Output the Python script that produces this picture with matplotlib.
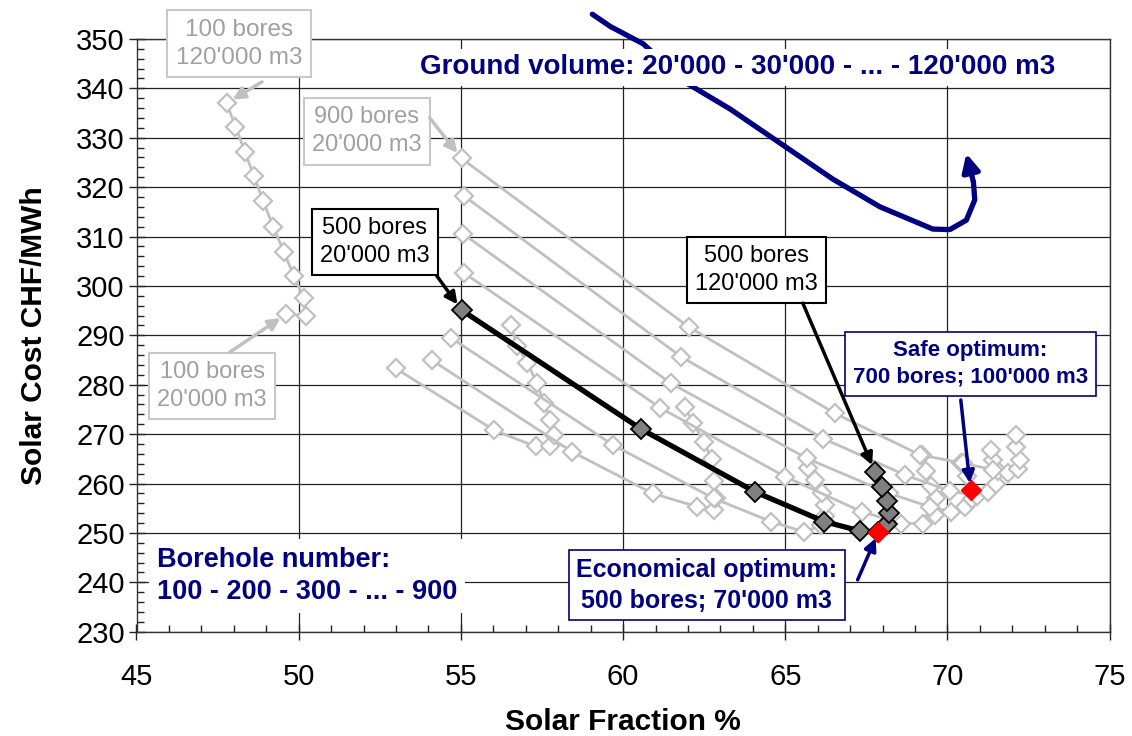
import matplotlib
matplotlib.use('Agg')
import matplotlib.pyplot as plt
from matplotlib.ticker import MultipleLocator

plt.rcParams['font.family'] = ['Liberation Sans', 'DejaVu Sans']

# ---------------- data ----------------
volumes = [20000, 30000, 40000, 50000, 60000, 70000, 80000, 90000, 100000, 110000, 120000]
bores = [100, 200, 300, 400, 500, 600, 700, 800, 900]

sf_100 = [49.62, 50.23, 50.16, 49.85, 49.55, 49.22, 48.91, 48.62, 48.34, 48.05, 47.78]
cost_100 = [294.3, 294.0, 297.5, 302.0, 306.8, 311.9, 317.1, 322.2, 327.2, 332.2, 337.0]

sf_200 = [52.99, 56.02, 57.30, 57.76, 57.86, 57.76, 57.56, 57.35, 57.05, 56.74, 56.53]
cost_200 = [283.3, 270.8, 267.5, 267.5, 269.8, 272.9, 276.2, 280.3, 284.3, 287.9, 292.1]

sf_300 = [54.12, 58.43, 60.91, 62.28, 62.79, 62.85, 62.80, 62.74, 62.48, 62.17, 61.90]
cost_300 = [284.9, 266.4, 258.0, 255.3, 254.6, 257.0, 260.5, 264.9, 268.5, 272.2, 275.5]

sf_400 = [54.69, 59.69, 62.79, 64.56, 65.58, 66.10, 66.22, 66.22, 66.12, 65.92, 65.70]
cost_400 = [289.5, 267.8, 257.0, 252.3, 250.2, 251.5, 253.4, 255.6, 258.0, 260.7, 263.1]

sf_500 = [55.02, 60.56, 64.07, 66.20, 67.30, 67.87, 68.14, 68.20, 68.14, 67.97, 67.76]
cost_500 = [295.1, 271.0, 258.3, 252.3, 250.4, 250.2, 251.8, 254.0, 256.5, 259.2, 262.4]

sf_600 = [55.10, 61.15, 64.99, 67.35, 68.58, 69.25, 69.60, 69.66, 69.50, 69.35, 69.20]
cost_600 = [302.6, 275.3, 261.4, 254.3, 251.9, 251.9, 253.6, 257.0, 259.4, 262.6, 265.8]

sf_700 = [55.05, 61.47, 65.66, 68.20, 69.45, 70.12, 70.53, 70.75, 70.71, 70.60, 70.43]
cost_700 = [310.6, 280.3, 265.1, 258.0, 255.3, 254.3, 255.3, 256.8, 258.7, 261.5, 264.1]

sf_800 = [55.10, 61.80, 66.17, 68.70, 70.07, 70.90, 71.25, 71.50, 71.56, 71.41, 71.35]
cost_800 = [318.2, 285.6, 269.1, 261.7, 258.5, 257.5, 258.3, 260.0, 262.5, 264.8, 266.8]

sf_900 = [55.02, 62.02, 66.53, 69.15, 70.48, 71.40, 71.86, 72.17, 72.22, 72.12, 72.12]
cost_900 = [325.8, 291.7, 274.2, 265.8, 264.1, 262.8, 262.1, 263.0, 264.8, 267.3, 269.8]

x_ticks = [45, 50, 55, 60, 65, 70, 75]
y_ticks = [230, 240, 250, 260, 270, 280, 290, 300, 310, 320, 330, 340, 350]

# hand-drawn "ground volume" direction curve (annotation, data coords)
gv_x = [59.05, 59.61, 60.62, 61.97, 63.30, 64.84, 66.47, 67.92, 69.55, 70.07, 70.58, 70.84, 70.80]
gv_y = [355.0, 352.5, 349.0, 341.0, 335.8, 328.9, 321.6, 316.0, 311.5, 311.4, 313.3, 317.4, 321.0]

# ---------------- figure ----------------
fig = plt.figure(figsize=(11.32, 7.36), dpi=100)
ax = fig.add_axes([136.5 / 1132, 1 - 631.7 / 736, (1109.7 - 136.5) / 1132, (631.7 - 38.9) / 736])

ax.set_xlim(45, 75)
ax.set_ylim(230, 350)
ax.set_xticks(x_ticks)
ax.set_yticks(y_ticks)
ax.xaxis.set_minor_locator(MultipleLocator(1))
ax.yaxis.set_minor_locator(MultipleLocator(2))
ax.grid(True, which='major', color='#222222', lw=0.9, zorder=0)
ax.set_axisbelow(True)
for s in ax.spines.values():
    s.set_color('#333333')
    s.set_linewidth(1.0)
ax.tick_params(which='major', direction='inout', length=11, width=1.0, color='#222222', labelsize=21)
ax.tick_params(axis='x', which='major', pad=17)
ax.tick_params(axis='y', which='major', pad=3)
ax.tick_params(which='minor', direction='in', length=5, width=1.0, color='#222222')

ax.set_xlabel('Solar Fraction %', fontsize=21.5, fontweight='bold', labelpad=12)
ax.set_ylabel('Solar Cost CHF/MWh', fontsize=21.5, fontweight='bold', labelpad=20)

gray = '#c0c0c0'
series = [(sf_100, cost_100), (sf_200, cost_200), (sf_300, cost_300), (sf_400, cost_400),
          (sf_600, cost_600), (sf_700, cost_700), (sf_800, cost_800), (sf_900, cost_900)]
for sf, cost in series:
    ax.plot(sf, cost, color=gray, lw=2.0, marker='D', ms=9, mfc='white', mec=gray, mew=1.6, zorder=3)

ax.plot(sf_500, cost_500, color='black', lw=3.8, marker='D', ms=10, mfc='#808080', mec='black',
        mew=1.3, zorder=4)

# optima
ax.plot([sf_500[5]], [cost_500[5]], 'D', color='red', ms=10.5, zorder=6)
ax.plot([sf_700[8]], [cost_700[8]], 'D', color='red', ms=10.5, zorder=6)

navy = '#000080'
gtxt = '#a0a0a0'


def box_text(x, y, s, color, ec, weight='normal', size=17, lw=1.5, pad=0.35):
    ax.text(x, y, s, color=color, fontsize=size, fontweight=weight, ha='center', va='center',
            linespacing=1.35, zorder=8, clip_on=False,
            bbox=dict(boxstyle='square,pad=%g' % pad, fc='white', ec=ec, lw=lw))


def arrow(xy, xyt, color, lw=2.5, ms=18):
    ax.annotate('', xy=xy, xytext=xyt, annotation_clip=False, zorder=9,
                arrowprops=dict(arrowstyle='-|>', color=color, lw=lw, mutation_scale=ms,
                                shrinkA=0, shrinkB=5))


# grey annotations
box_text(48.16, 349.0, "100 bores\n120'000 m3", gtxt, '#c8c8c8', size=17.5)
arrow((sf_100[-1], cost_100[-1]), (48.87, 341.3), gray)
box_text(52.10, 331.3, "900 bores\n20'000 m3", gtxt, '#c8c8c8')
arrow((sf_900[0], cost_900[0]), (54.04, 334.0), gray)
box_text(47.33, 279.7, "100 bores\n20'000 m3", gtxt, '#c8c8c8')
arrow((sf_100[0], cost_100[0]), (47.88, 286.6), gray)

# black annotations
box_text(52.35, 308.9, "500 bores\n20'000 m3", 'black', 'black')
arrow((sf_500[0], cost_500[0]), (54.26, 302.0), 'black')
box_text(64.12, 303.2, "500 bores\n120'000 m3", 'black', 'black')
arrow((sf_500[-1], cost_500[-1]), (65.54, 296.5), 'black')

# navy annotations
box_text(70.71, 284.2, "Safe optimum:\n700 bores; 100'000 m3", navy, navy, weight='bold', size=16, lw=1.2)
arrow((sf_700[8], cost_700[8]), (70.41, 276.9), navy)
box_text(62.58, 239.4, "Economical optimum:\n500 bores; 70'000 m3", navy, navy, weight='bold', size=18, lw=1.2,
         pad=0.3)
arrow((sf_500[5], cost_500[5]), (67.23, 240.5), navy)

# ground volume curve
ax.plot(gv_x, gv_y, color=navy, lw=3.8, solid_capstyle='round', solid_joinstyle='round',
        clip_on=False, zorder=6)
ax.annotate('', xy=(70.58, 326.8), xytext=(gv_x[-1], gv_y[-1]), annotation_clip=False, zorder=6,
            arrowprops=dict(arrowstyle='-|>', color=navy, lw=3.8, mutation_scale=26, shrinkA=0, shrinkB=0))

ax.text(63.54, 344.3, "Ground volume: 20'000 - 30'000 - ... - 120'000 m3", color=navy, fontsize=20,
        fontweight='bold', ha='center', va='center', zorder=8,
        bbox=dict(boxstyle='square,pad=0.2', fc='white', ec='none'))
ax.text(45.63, 241.3, "Borehole number:\n100 - 200 - 300 - ... - 900", color=navy, fontsize=19.5,
        fontweight='bold', ha='left', va='center', linespacing=1.3, zorder=8,
        bbox=dict(boxstyle='square,pad=0.3', fc='white', ec='none'))

fig.savefig('out.png', dpi=100)
